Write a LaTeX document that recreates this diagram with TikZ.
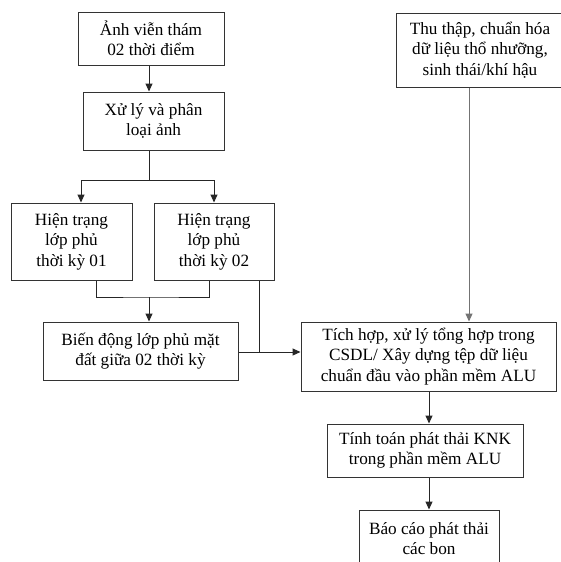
\documentclass[tikz,border=0pt]{standalone}
\usepackage{fontspec}
\setmainfont{Liberation Serif}
\usetikzlibrary{arrows.meta}
\begin{document}
\begin{tikzpicture}[x=1pt,y=-1pt,
  box/.style={draw=black!80,line width=1pt,align=center,inner sep=0pt,
    font=\fontsize{17.2}{20.5}\selectfont},
  arr/.style={-{Triangle[length=8pt,width=7pt]},line width=1pt,draw=black!85},
  ln/.style={line width=1pt,draw=black!85}]
\useasboundingbox (0,0) rectangle (561,562);
\clip (0,0) rectangle (561,562);
\fill[white] (0,0) rectangle (561,562);

\node[box,minimum width=146pt,minimum height=53pt] (A) at (151,38.5) {Ảnh viễn thám\\02 thời điểm};
\node[box,minimum width=141pt,minimum height=58pt] (B) at (153.5,121) {Xử lý và phân\\loại ảnh};
\node[box,minimum width=121pt,minimum height=77pt] (C1) at (71.5,241.5) {Hiện trạng\\lớp phủ\\thời kỳ 01};
\node[box,minimum width=120pt,minimum height=77pt] (C2) at (214,241.5) {Hiện trạng\\lớp phủ\\thời kỳ 02};
\node[box,minimum width=195pt,minimum height=58pt] (D) at (140.5,351) {Biến động lớp phủ mặt\\đất giữa 02 thời kỳ};
\node[box,minimum width=255pt,minimum height=69pt] (E) at (428.5,356.5) {Tích hợp, xử lý tổng hợp trong\\CSDL/ Xây dựng tệp dữ liệu\\chuẩn đầu vào phần mềm ALU};
\node[box,minimum width=168pt,minimum height=74pt] (F) at (480,50) {Thu thập, chuẩn hóa\\dữ liệu thổ nhưỡng,\\sinh thái/khí hậu};
\node[box,minimum width=196pt,minimum height=53pt] (G) at (425,450.5) {Tính toán phát thải KNK\\trong phần mềm ALU};
\node[box,minimum width=140pt,minimum height=57pt] (H) at (429,538.5) {Báo cáo phát thải\\các bon};

\coordinate (xa) at (149,0);
\coordinate (split) at (149,180);
\coordinate (c1in) at (81,0);
\coordinate (c2in) at (214,0);
\coordinate (j1) at (96,0);
\coordinate (j2) at (209,0);
\coordinate (join) at (149,297);
\coordinate (hy) at (0,352);
\coordinate (v2) at (259,0);
\coordinate (fx) at (469,0);
\coordinate (gx) at (429,0);

\draw[arr] (A.south -| xa) -- (B.north -| xa);
\draw[ln] (B.south -| xa) -- (split);
\draw[arr] (split) -| (C1.north -| c1in);
\draw[arr] (split) -| (C2.north -| c2in);
\draw[ln] (C1.south -| j1) |- (join) -| (C2.south -| j2);
\draw[arr] (join) -- (D.north -| join);
\draw[arr] (D.east |- hy) -- (E.west |- hy);
\draw[ln] (C2.south -| v2) -- (v2 |- hy);
\draw[arr,draw=black!55] (F.south -| fx) -- (E.north -| fx);
\draw[arr] (E.south -| gx) -- (G.north -| gx);
\draw[arr] (G.south -| gx) -- (H.north -| gx);
\end{tikzpicture}
\end{document}
